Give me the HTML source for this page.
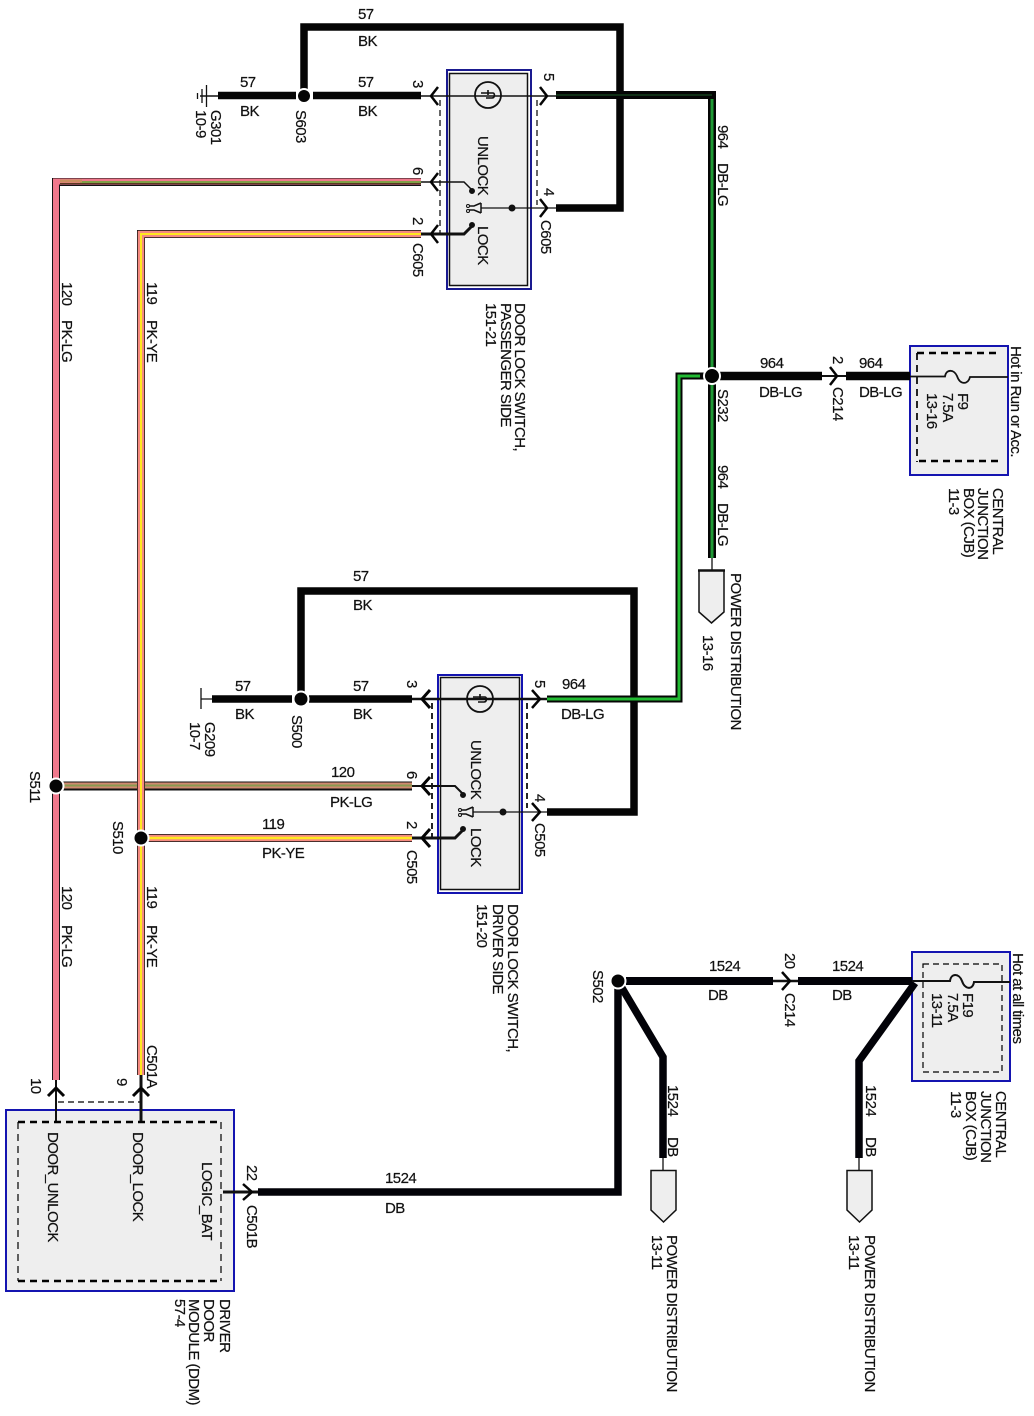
<!DOCTYPE html>
<html lang="en">
<head>
<meta charset="utf-8">
<title>Door lock wiring diagram</title>
<style>
html,body{margin:0;padding:0;background:#fff}
svg{display:block}
text{font-family:"Liberation Sans",sans-serif;font-size:15px;letter-spacing:-.55px;fill:#111;stroke:#111;stroke-width:.2px}
.w{fill:none;stroke-linejoin:miter;stroke-linecap:butt}
</style>
</head>
<body>
<svg width="1034" height="1416" viewBox="0 0 1034 1416" xmlns="http://www.w3.org/2000/svg">
<rect width="1034" height="1416" fill="#fff"/>

<!-- component boxes -->
<rect x="447" y="70" width="84" height="219" fill="#fff" stroke="#1a1a90" stroke-width="2"/>
<rect x="449.500" y="73.500" width="78" height="212" fill="#eee" stroke="#111" stroke-width="1.500"/>
<rect x="438" y="675" width="84" height="218" fill="#fff" stroke="#1414b0" stroke-width="2"/>
<rect x="440.500" y="677.500" width="79" height="212" fill="#eee" stroke="#111" stroke-width="1.500"/>
<rect x="910" y="346" width="98" height="129" fill="#eee" stroke="#1414b0" stroke-width="2"/>
<rect x="912" y="952" width="98" height="129" fill="#eee" stroke="#1414b0" stroke-width="2"/>
<rect x="6" y="1110" width="228" height="181" fill="#eee" stroke="#1414b0" stroke-width="2"/>

<!-- dashed component outlines -->
<g fill="none" stroke="#000">
<path d="M440 100V235M537 100V205" stroke-width="1.200" stroke-dasharray="6 4"/>
<path d="M432 703V838M527 703V808" stroke-width="1.700" stroke-dasharray="6 4"/>
<path d="M917 353V462" stroke-width="1.700" stroke-dasharray="7 5"/>
<path d="M917 353H998M919 461H998" stroke-width="2.500" stroke-dasharray="7 5"/>
<path d="M923 964H1002V1072H923Z" stroke-width="1.200" stroke-dasharray="6 4"/>
<path d="M18 1122H221M18 1281H221" stroke-width="2.500" stroke-dasharray="7 5"/>
<path d="M18 1122V1281M221 1122V1281" stroke-width="1.200" stroke-dasharray="7 5"/>
<path d="M58 1102H140" stroke-width="1.200" stroke-dasharray="6 4"/>
</g>

<!-- black 57 wires -->
<g class="w" stroke="#050505" stroke-width="7.500">
<path d="M304 96V27H620V208H556"/>
<path d="M218 95.500H296M313 95.500H421"/>
<path d="M301 699V591H634V812H547" />
<path d="M212 699H292M309 699H412"/>
</g>

<!-- 964 wires -->
<g class="w">
<path d="M556 95H712V376V558" stroke="#050505" stroke-width="8"/>
<path d="M556 95H712" stroke="#1c5a28" stroke-width="1"/>
<path d="M712 99V370M712 382V558" stroke="#1f9a35" stroke-width="3"/>
<path d="M704 376H679V699H547" stroke="#050505" stroke-width="7"/>
<path d="M700 376H679V699H547" stroke="#22bb33" stroke-width="3"/>
<path d="M720 376H822M846 376H910" stroke="#050505" stroke-width="8.500"/>
</g>

<!-- 120 PK-LG wires -->
<g class="w">
<path d="M421 182H56V1080" stroke="#111" stroke-width="8"/>
<path d="M421 181.500H56V1080" stroke="#f0788c" stroke-width="6"/>
<path d="M421 182H80" stroke="#7fa046" stroke-width="2"/>
<path d="M60 183.500H421" stroke="#5a3a20" stroke-width="1"/>
<path d="M60 181H82" stroke="#c88f60" stroke-width="3"/>
<path d="M62 786H412" stroke="#111" stroke-width="9"/>
<path d="M62 785.500H412" stroke="#d08a70" stroke-width="6"/>
<path d="M62 785.500H412" stroke="#8a9a50" stroke-width="2"/>
</g>

<!-- 119 PK-YE wires -->
<g class="w">
<path d="M421 234H141V1075" stroke="#111" stroke-width="8"/>
<path d="M421 234H141V1075" stroke="#f58a80" stroke-width="6.500"/>
<path d="M421 234H141V1075" stroke="#ffe820" stroke-width="2"/>
<path d="M147 838H412" stroke="#111" stroke-width="8"/>
<path d="M147 838H412" stroke="#f58a80" stroke-width="6.500"/>
<path d="M147 838H412" stroke="#ffe820" stroke-width="2.500"/>
</g>

<!-- 1524 DB wires -->
<g class="w" stroke="#020208">
<path d="M258 1192H618V985" stroke-width="7.500"/>
<path d="M626 981H773M798 981H912" stroke-width="8"/>
<path d="M619 983L663 1057V1158" stroke-width="7.500"/>
<path d="M915 983L859 1061V1158" stroke-width="7.500"/>
</g>

<!-- splices -->
<g fill="#050505" stroke="#fff" stroke-width="2">
<circle cx="304" cy="96" r="7"/>
<circle cx="301" cy="699" r="7.500"/>
<circle cx="712" cy="376" r="8"/>
<circle cx="56" cy="786" r="7.500"/>
<circle cx="141" cy="838" r="7.500"/>
<circle cx="618" cy="981" r="7.500"/>
</g>

<!-- thin lines inside switches -->
<g fill="none" stroke="#111" stroke-linejoin="miter">
<path d="M200 96H218" stroke-width="1.500"/>
<path d="M206.500 85V107M202 89V103M197.500 93V99" stroke-width="1.300"/>
<path d="M201 688V709M201 699H212" stroke-width="1.300"/>
<path d="M421 96H556" stroke-width="1.500"/>
<path d="M412 699H547" stroke-width="2.500"/>
<path d="M421 182H464L472 190" stroke-width="1.500"/>
<path d="M421 234H464L472 226" stroke-width="3"/>
<path d="M481 208H556" stroke-width="1.300"/>
<path d="M412 786H455L463 794" stroke-width="2"/>
<path d="M412 838H455L463 830" stroke-width="3"/>
<path d="M473 812H547" stroke-width="1.300"/>
<path d="M822 376H846" stroke-width="2"/>
<path d="M773 981H798" stroke-width="2.500"/>
<path d="M223 1192H258" stroke-width="3"/>
<path d="M56 1121V1080" stroke-width="2"/>
<path d="M141 1121V1075" stroke-width="3"/>
<path d="M712 558V571M663 1158V1171M859 1158V1171" stroke-width="1.300"/>
<path d="M910 376.500H945C946 369 954 369 957 376C960 385 968 385 970 377H1008" stroke-width="1.800"/>
<path d="M912 981H950C951 973 959 973 962 981C965 990 973 990 974 982H1010" stroke-width="2"/>
</g>

<!-- connector chevrons -->
<g fill="none" stroke="#050505" stroke-width="2.500">
<path d="M438 87L431 96L438 105M438 173L431 182L438 191M438 225L431 234L438 243" />
<path d="M540 87L547 96L540 105M540 199L547 208L540 217"/>
<path d="M430 690L422 699L430 708M430 777L422 786L430 795M430 829L422 838L430 847" stroke-width="3"/>
<path d="M532 690L540 699L532 708M532 803L540 812L532 821" stroke-width="2.500"/>
<path d="M830 367L837 376L830 385M782 972L790 981L782 990"/>
<path d="M243 1184L252 1192L243 1200"/>
<path d="M48 1096L56 1088L64 1096M133 1096L141 1088L149 1096" stroke-width="3"/>
</g>

<!-- switch contacts -->
<g fill="#111" stroke="#111">
<circle cx="472" cy="191" r="2.500"/>
<circle cx="472" cy="225" r="2.500"/>
<circle cx="512" cy="208" r="3"/>
<path d="M481 203L474 206H469M481 213L474 210H469M481 203V213" fill="none" stroke-width="1.500"/>
<circle cx="468" cy="206" r="1.500" fill="none"/>
<circle cx="468" cy="211" r="1.500" fill="none"/>
<circle cx="463" cy="795" r="2.500"/>
<circle cx="463" cy="829" r="2.500"/>
<circle cx="503" cy="812" r="3"/>
<path d="M473 807L466 810H461M473 817L466 814H461M473 807V817" fill="none" stroke-width="1.500"/>
<circle cx="460" cy="810" r="1.500" fill="none"/>
<circle cx="460" cy="815" r="1.500" fill="none"/>
</g>

<!-- motors -->
<g fill="none" stroke="#111" stroke-width="1.800">
<circle cx="488" cy="95" r="13"/>
<circle cx="480" cy="699" r="13"/>
<path d="M481 93H493C495 93 495 98 492 98H486M488 90V95" stroke-width="1.600"/>
<path d="M473 697H485C487 697 487 702 484 702H478M480 694V699" stroke-width="1.600"/>
</g>

<!-- pointers -->
<g fill="#eee" stroke="#111" stroke-width="1.500">
<path d="M699 570.500H724V612L711.500 623L699 612Z"/>
<path d="M698 570.500H725" stroke-width="2.500"/>
<path d="M651 1170.500H676V1210L663.500 1222L651 1210Z"/>
<path d="M847 1170.500H872V1210L859.500 1222L847 1210Z"/>
</g>

<!-- horizontal labels -->
<text x="358" y="19">57</text>
<text x="358" y="46">BK</text>
<text x="240" y="87">57</text>
<text x="240" y="116">BK</text>
<text x="358" y="87">57</text>
<text x="358" y="116">BK</text>
<text x="353" y="581">57</text>
<text x="353" y="610">BK</text>
<text x="235" y="691">57</text>
<text x="235" y="719">BK</text>
<text x="353" y="691">57</text>
<text x="353" y="719">BK</text>
<text x="562" y="689">964</text>
<text x="561" y="719">DB-LG</text>
<text x="331" y="777">120</text>
<text x="330" y="807">PK-LG</text>
<text x="262" y="829">119</text>
<text x="262" y="858">PK-YE</text>
<text x="760" y="368">964</text>
<text x="759" y="397">DB-LG</text>
<text x="859" y="368">964</text>
<text x="859" y="397">DB-LG</text>
<text x="709" y="971">1524</text>
<text x="708" y="1000">DB</text>
<text x="832" y="971">1524</text>
<text x="832" y="1000">DB</text>
<text x="385" y="1183">1524</text>
<text x="385" y="1213">DB</text>

<!-- rotated labels -->
<g>
<text transform="translate(211,110) rotate(90)">G301</text>
<text transform="translate(196,110) rotate(90)">10-9</text>
<text transform="translate(296,110) rotate(90)">S603</text>
<text transform="translate(413,80) rotate(90)">3</text>
<text transform="translate(413,167) rotate(90)">6</text>
<text transform="translate(413,217) rotate(90)">2</text>
<text transform="translate(413,243) rotate(90)">C605</text>
<text transform="translate(544,73) rotate(90)">5</text>
<text transform="translate(544,188) rotate(90)">4</text>
<text transform="translate(541,220) rotate(90)">C605</text>
<text transform="translate(478,136) rotate(90)">UNLOCK</text>
<text transform="translate(478,226) rotate(90)">LOCK</text>
<text transform="translate(515,303) rotate(90)">DOOR LOCK SWITCH,</text>
<text transform="translate(501,303) rotate(90)">PASSENGER SIDE</text>
<text transform="translate(486,303) rotate(90)">151-21</text>

<text transform="translate(718,125) rotate(90)">964</text>
<text transform="translate(718,163) rotate(90)">DB-LG</text>
<text transform="translate(718,389) rotate(90)">S232</text>
<text transform="translate(718,465) rotate(90)">964</text>
<text transform="translate(718,503) rotate(90)">DB-LG</text>
<text transform="translate(731,573) rotate(90)">POWER DISTRIBUTION</text>
<text transform="translate(703,635) rotate(90)">13-16</text>
<text transform="translate(833,356) rotate(90)">2</text>
<text transform="translate(833,387) rotate(90)">C214</text>

<text transform="translate(958,393) rotate(90)">F9</text>
<text transform="translate(943,393) rotate(90)">7.5A</text>
<text transform="translate(927,393) rotate(90)">13-16</text>
<text transform="translate(1011,346) rotate(90)">Hot in Run or Acc.</text>
<text transform="translate(993,488) rotate(90)">CENTRAL</text>
<text transform="translate(978,488) rotate(90)">JUNCTION</text>
<text transform="translate(964,488) rotate(90)">BOX (CJB)</text>
<text transform="translate(949,488) rotate(90)">11-3</text>

<text transform="translate(205,722) rotate(90)">G209</text>
<text transform="translate(190,722) rotate(90)">10-7</text>
<text transform="translate(292,715) rotate(90)">S500</text>
<text transform="translate(407,680) rotate(90)">3</text>
<text transform="translate(407,771) rotate(90)">6</text>
<text transform="translate(407,821) rotate(90)">2</text>
<text transform="translate(407,850) rotate(90)">C505</text>
<text transform="translate(535,680) rotate(90)">5</text>
<text transform="translate(535,794) rotate(90)">4</text>
<text transform="translate(535,823) rotate(90)">C505</text>
<text transform="translate(471,740) rotate(90)">UNLOCK</text>
<text transform="translate(471,828) rotate(90)">LOCK</text>
<text transform="translate(508,904) rotate(90)">DOOR LOCK SWITCH,</text>
<text transform="translate(493,904) rotate(90)">DRIVER SIDE</text>
<text transform="translate(477,904) rotate(90)">151-20</text>

<text transform="translate(62,282) rotate(90)">120</text>
<text transform="translate(62,320) rotate(90)">PK-LG</text>
<text transform="translate(147,282) rotate(90)">119</text>
<text transform="translate(147,320) rotate(90)">PK-YE</text>
<text transform="translate(30,771) rotate(90)">S511</text>
<text transform="translate(113,821) rotate(90)">S510</text>
<text transform="translate(62,886) rotate(90)">120</text>
<text transform="translate(62,925) rotate(90)">PK-LG</text>
<text transform="translate(147,886) rotate(90)">119</text>
<text transform="translate(147,925) rotate(90)">PK-YE</text>
<text transform="translate(147,1045) rotate(90)">C501A</text>
<text transform="translate(31,1078) rotate(90)">10</text>
<text transform="translate(117,1078) rotate(90)">9</text>
<text transform="translate(48,1132) rotate(90)">DOOR_UNLOCK</text>
<text transform="translate(133,1132) rotate(90)">DOOR_LOCK</text>
<text transform="translate(202,1162) rotate(90)">LOGIC_BAT</text>
<text transform="translate(247,1165) rotate(90)">22</text>
<text transform="translate(247,1205) rotate(90)">C501B</text>
<text transform="translate(220,1299) rotate(90)">DRIVER</text>
<text transform="translate(204,1299) rotate(90)">DOOR</text>
<text transform="translate(189,1299) rotate(90)">MODULE (DDM)</text>
<text transform="translate(175,1299) rotate(90)">57-4</text>

<text transform="translate(593,970) rotate(90)">S502</text>
<text transform="translate(785,953) rotate(90)">20</text>
<text transform="translate(785,993) rotate(90)">C214</text>
<text transform="translate(668,1085) rotate(90)">1524</text>
<text transform="translate(668,1137) rotate(90)">DB</text>
<text transform="translate(866,1085) rotate(90)">1524</text>
<text transform="translate(866,1137) rotate(90)">DB</text>
<text transform="translate(667,1235) rotate(90)">POWER DISTRIBUTION</text>
<text transform="translate(652,1235) rotate(90)">13-11</text>
<text transform="translate(865,1235) rotate(90)">POWER DISTRIBUTION</text>
<text transform="translate(849,1235) rotate(90)">13-11</text>
<text transform="translate(963,993) rotate(90)">F19</text>
<text transform="translate(948,993) rotate(90)">7.5A</text>
<text transform="translate(932,993) rotate(90)">13-11</text>
<text transform="translate(1013,953) rotate(90)">Hot at all times</text>
<text transform="translate(996,1091) rotate(90)">CENTRAL</text>
<text transform="translate(981,1091) rotate(90)">JUNCTION</text>
<text transform="translate(966,1091) rotate(90)">BOX (CJB)</text>
<text transform="translate(951,1091) rotate(90)">11-3</text>
</g>
</svg>
</body>
</html>
